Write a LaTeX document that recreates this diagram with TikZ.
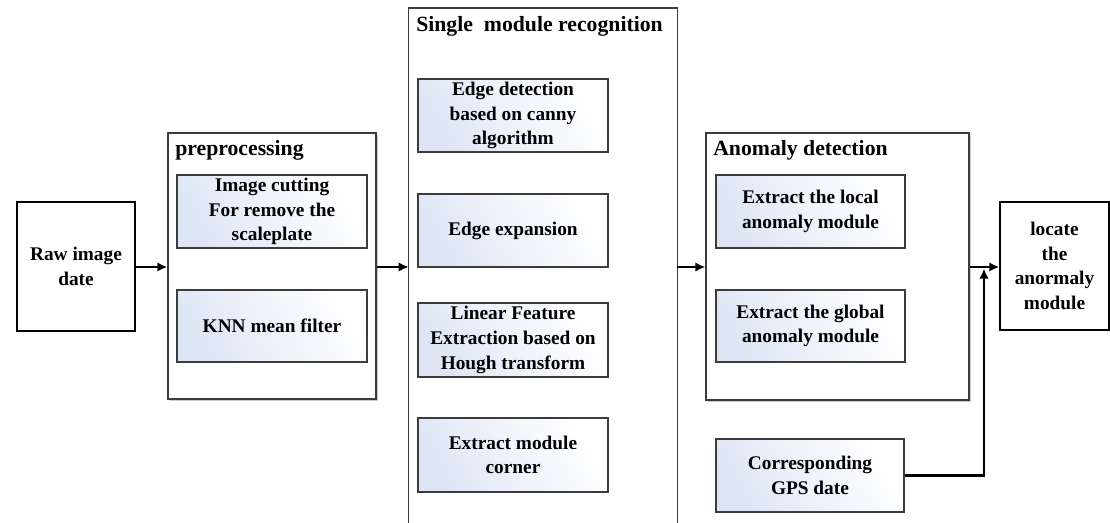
\documentclass[tikz,border=0pt]{standalone}
\usepackage{fontspec}
\setmainfont{Liberation Serif}
\usetikzlibrary{arrows.meta,shadows}
\definecolor{boxblue}{RGB}{222,230,245}
\definecolor{edgegrey}{RGB}{60,60,60}
\tikzset{
  boxtext/.style={font=\fontsize{14.5}{18.5}\selectfont\bfseries, align=center, text=black},
  plainbox/.style={boxtext, draw=black, line width=1pt, inner sep=0pt},
  innerbox/.style={boxtext, draw=edgegrey, line width=1pt, inner sep=0pt,
    left color=boxblue, right color=white, shading angle=120,
    minimum width=142.5pt},
  container/.style={draw=edgegrey, line width=0.9pt, fill=white, inner sep=0pt,
    drop shadow={shadow xshift=1.2pt, shadow yshift=-1.2pt, fill=black!35, opacity=0.6}},
  titletext/.style={font=\fontsize{16.3}{19}\selectfont\bfseries, text=black, inner sep=0pt},
  arr/.style={line width=1.8pt, -{Latex[length=7.5pt,width=7pt]}},
}
\begin{document}
\begin{tikzpicture}[x=0.75pt,y=-0.75pt]
\useasboundingbox (0,0) rectangle (1110,522);
\fill[white] (0,0) rectangle (1110,522);

% raw image
\node[plainbox, minimum width=88.5pt, minimum height=96.75pt] (raw) at (76,266.5) {Raw image\\date};

% preprocessing container
\node[container, minimum width=156pt, minimum height=199.5pt] (pre) at (272,266) {};
\node[titletext, anchor=base west] (pretitle) at (175,155) {preprocessing};
\node[innerbox, minimum height=54.75pt] (cut) at (272,211.5) {Image cutting\\For remove the\\scaleplate};
\node[innerbox, minimum height=54pt] (knn) at (272,326) {KNN mean filter};

% single module recognition container (runs off the bottom edge)
\node[inner sep=0pt, minimum width=201pt, minimum height=400pt] (single) at (543,275) {};
\fill[white] (single.south west) rectangle (single.north east);
\draw[edgegrey, line width=0.9pt] (single.south west) -- (single.north west) -- (single.north east) -- (single.south east);
\node[titletext, anchor=base west] (singletitle) at (416,31) {Single\ \ module recognition};
\node[innerbox, minimum height=54.75pt] (s1) at (513,115.5) {Edge detection\\based on canny\\algorithm};
\node[innerbox, minimum height=54.75pt] (s2) at (513,230.5) {Edge expansion};
\node[innerbox, minimum height=55.5pt] (s3) at (513,340) {Linear Feature\\Extraction based on\\Hough transform};
\node[innerbox, minimum height=55.5pt] (s4) at (513,455) {Extract module\\corner};

% anomaly detection container
\node[container, minimum width=197.25pt, minimum height=200.25pt] (anom) at (837.5,266.5) {};
\node[titletext, anchor=base west] (anomtitle) at (713,155) {Anomaly detection};
\node[innerbox, minimum width=141.75pt, minimum height=54.75pt] (loc) at (810.5,211.5) {Extract the local\\anomaly module};
\node[innerbox, minimum width=141.75pt, minimum height=54pt] (glob) at (810.5,326) {Extract the global\\anomaly module};

% GPS
\node[innerbox, minimum width=141pt, minimum height=54.75pt] (gps) at (810,475.5) {Corresponding\\GPS date};

% locate
\node[plainbox, minimum width=81.75pt, minimum height=96pt] (locate) at (1054.5,266) {locate\\the\\anormaly\\module};

% connectors
\draw[arr] (raw.east |- 0,267) -- (pre.west |- 0,267);
\draw[arr] (pre.east |- 0,267) -- (single.west |- 0,267);
\draw[arr] (single.east |- 0,267) -- (anom.west |- 0,267);
\draw[arr] (anom.east |- 0,267) -- (locate.west |- 0,267);
\coordinate (join) at (984,268.5);
\draw[arr] (gps.east) -| (join);
\end{tikzpicture}
\end{document}
